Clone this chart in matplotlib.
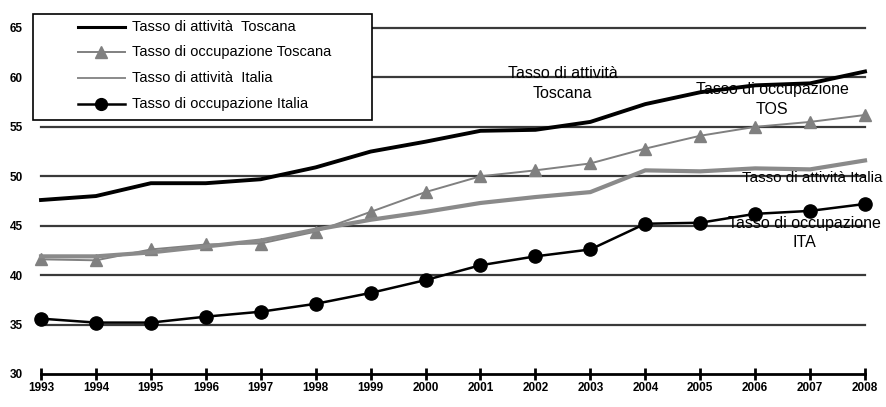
import matplotlib
matplotlib.use("Agg")
import matplotlib.pyplot as plt
from matplotlib.lines import Line2D
from matplotlib.patches import Rectangle

plt.rcParams['font.family'] = ['Liberation Sans', 'DejaVu Sans']

years = list(range(1993, 2009))
att_tos = [47.6, 48.0, 49.3, 49.3, 49.7, 50.9, 52.5, 53.5, 54.6, 54.7, 55.5, 57.3, 58.5, 59.2, 59.4, 60.6]
occ_tos = [41.6, 41.5, 42.6, 43.1, 43.2, 44.4, 46.4, 48.4, 50.0, 50.6, 51.3, 52.8, 54.1, 55.0, 55.5, 56.2]
att_ita = [41.9, 41.9, 42.3, 42.9, 43.5, 44.6, 45.6, 46.4, 47.3, 47.9, 48.4, 50.6, 50.5, 50.8, 50.7, 51.6]
occ_ita = [35.6, 35.2, 35.2, 35.8, 36.3, 37.1, 38.2, 39.5, 41.0, 41.9, 42.6, 45.2, 45.3, 46.2, 46.5, 47.2]
yticks = [30, 35, 40, 45, 50, 55, 60, 65]
labels = ['Tasso di attività  Toscana', 'Tasso di occupazione Toscana',
          'Tasso di attività  Italia', 'Tasso di occupazione Italia']

W, H = 887, 407
fig = plt.figure(figsize=(W/100, H/100), dpi=100)
ax = fig.add_axes([41/W, (H-374)/H, (865-41)/W, (374-28)/H])
ax.set_xlim(1993, 2008)
ax.set_ylim(30, 65)

for yv in yticks[1:]:
    ax.axhline(yv, color='#3a3a3a', lw=1.6, zorder=1, clip_on=False)

styles = [
    dict(color='black', lw=2.8),
    dict(color='#808080', lw=1.4, marker='^', markersize=8,
         markerfacecolor='#808080', markeredgecolor='#808080'),
    dict(color='#8a8a8a', lw=3.0),
    dict(color='black', lw=1.8, marker='o', markersize=9.5, markerfacecolor='black'),
]
zs = [4, 3, 3, 5]
for vals, st, z in zip([att_tos, occ_tos, att_ita, occ_ita], styles, zs):
    ax.plot(years, vals, zorder=z, clip_on=False, **st)

for s in ['top', 'right', 'left']:
    ax.spines[s].set_visible(False)
ax.spines['bottom'].set_linewidth(2)
ax.spines['bottom'].set_color('black')
ax.set_xticks(years)
ax.set_xticklabels([str(y) for y in years], fontsize=8.5, fontweight='bold')
ax.tick_params(axis='x', direction='inout', length=8, width=2, pad=2)
ax.set_yticks(yticks)
ax.set_yticklabels([str(v) for v in yticks], fontsize=8.5, fontweight='bold')
ax.tick_params(axis='y', length=0, pad=13)

# legend drawn manually in figure pixel coordinates
def fx(px):
    return px / W
def fy(py):
    return 1 - py / H

fig.add_artist(Rectangle((fx(33), fy(120)), fx(372) - fx(33), fy(14) - fy(120),
                         transform=fig.transFigure, facecolor='white',
                         edgecolor='black', lw=1.2, zorder=10))
rows = [27, 52, 78, 104]
leg_lines = [
    dict(color='black', lw=2.2),
    dict(color='#808080', lw=1.4),
    dict(color='#8a8a8a', lw=1.4),
    dict(color='black', lw=1.8),
]
leg_marks = [None,
             dict(marker='^', markersize=8, markerfacecolor='#808080', markeredgecolor='#808080'),
             None,
             dict(marker='o', markersize=8.5, markerfacecolor='black', markeredgecolor='black')]
for r, st, mk, lab in zip(rows, leg_lines, leg_marks, labels):
    fig.add_artist(Line2D([fx(78), fx(125)], [fy(r), fy(r)], transform=fig.transFigure,
                          zorder=11, **st))
    if mk is not None:
        fig.add_artist(Line2D([fx(101.5)], [fy(r)], transform=fig.transFigure,
                              zorder=12, lw=0, **mk))
    fig.text(fx(132), fy(r), lab, fontsize=10.5, ha='left', va='center', zorder=12)

ax.text(2002.5, 59.4, 'Tasso di attività\nToscana', fontsize=11.5, ha='center', va='center', linespacing=1.45, zorder=6)
ax.text(2006.31, 57.8, 'Tasso di occupazione\nTOS', fontsize=11.5, ha='center', va='center', linespacing=1.4, zorder=6)
ax.text(2008.31, 49.8, 'Tasso di attività Italia', fontsize=11, ha='right', va='center', zorder=6)
ax.text(2006.89, 44.3, 'Tasso di occupazione\nITA', fontsize=11.5, ha='center', va='center', linespacing=1.35, zorder=6)

fig.savefig('out.png', dpi=100)
